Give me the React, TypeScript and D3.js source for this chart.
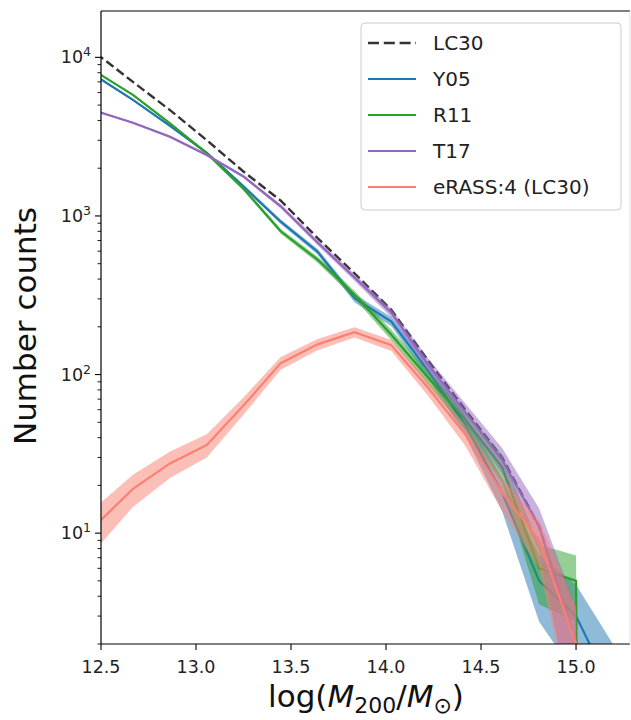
import React from 'react';
import * as d3 from 'd3';

// bin centres of log(M200/Msun)
const massBins = [12.474, 12.668, 12.863, 13.057, 13.251, 13.446, 13.640, 13.834, 14.028, 14.223, 14.417, 14.611, 14.806, 15.000, 15.194];
// number counts per bin
const lc30 = [10600, 7000, 4650, 3000, 1900, 1250, 725, 435, 256, 122, 60, 30, 11, 2, 0];
const y05 = [7600, 5400, 3700, 2500, 1530, 920, 595, 303, 216, 105, 48, 18, 5, 3, 1];
const r11 = [8100, 5800, 3840, 2480, 1480, 800, 530, 320, 178, 95, 52, 26, 6, 5, 0];
const t17 = [4580, 3870, 3160, 2420, 1770, 1150, 680, 410, 245, 115, 58, 29, 11, 2, 0];
const erass = [11.3, 19, 27.5, 36, 64, 118, 155, 185, 153, 82, 42, 18, 9, 2, 0];

const xTicks = [12.5, 13.0, 13.5, 14.0, 14.5, 15.0];
const yTickExps = [1, 2, 3, 4];
const legendLabels = ['LC30', 'Y05', 'R11', 'T17', 'eRASS:4 (LC30)'];
const seriesColors = ['#000000', '#1f77b4', '#2ca02c', '#9467bd', '#fa8072'];

const W = 631, H = 720;
const L = 101, R = 630, T = 11, B = 644;
const FONT = 'DejaVu Sans, sans-serif';

export default function App() {
  const x = d3.scaleLinear().domain([12.5, 15.284]).range([L, R]);
  const y = d3.scaleLog().domain([2, 19600]).range([B, T]);
  const safe = (v: number) => (v > 0 ? v : 1e-30);
  const line = d3.line<number>().x((_d, i) => x(massBins[i])).y((d) => y(safe(d)));
  const area = d3
    .area<number>()
    .x((_d, i) => x(massBins[i]))
    .y0((d) => y(safe(d - Math.sqrt(d))))
    .y1((d) => y(safe(d + Math.sqrt(d))));

  const models = [
    { data: y05, color: seriesColors[1] },
    { data: r11, color: seriesColors[2] },
    { data: t17, color: seriesColors[3] },
    { data: erass, color: seriesColors[4] },
  ];

  const minorTicks: number[] = [];
  for (let e = 0; e <= 4; e++) {
    for (let m = 2; m <= 9; m++) {
      const v = m * Math.pow(10, e);
      if (v >= 2 && v <= 19600) minorTicks.push(v);
    }
  }

  const legX = 361, legY = 23, legW = 260, legH = 187;
  const rowY = (i: number) => 43 + i * 36;

  return (
    <svg width={W} height={H} style={{ position: 'absolute', left: 0, top: 0, background: '#fff' }} fontFamily={FONT}>
      <defs>
        <clipPath id="plotclip">
          <rect x={L} y={T} width={R - L} height={B - T} />
        </clipPath>
      </defs>
      <rect x={0} y={0} width={W} height={H} fill="#fff" />
      <g clipPath="url(#plotclip)">
        <path d={line(lc30) || ''} fill="none" stroke="#000" strokeOpacity={0.8} strokeWidth={2.4} strokeDasharray="9,4" />
        {models.map((m, i) => (
          <g key={i}>
            <path d={line(m.data) || ''} fill="none" stroke={m.color} strokeWidth={2.2} />
            <path d={area(m.data) || ''} fill={m.color} fillOpacity={0.5} stroke="none" />
          </g>
        ))}
      </g>
      {/* spines */}
      <line x1={L} y1={T} x2={L} y2={B} stroke="#000" strokeWidth={1.2} />
      <line x1={L} y1={B} x2={R} y2={B} stroke="#000" strokeWidth={1.2} />
      <line x1={L} y1={T} x2={R} y2={T} stroke="#000" strokeWidth={1.2} />
      <line x1={R} y1={T} x2={R} y2={B} stroke="#ddd" strokeWidth={1} />
      {/* x ticks */}
      {xTicks.map((t) => (
        <g key={t}>
          <line x1={x(t)} x2={x(t)} y1={B} y2={B + 6} stroke="#000" strokeWidth={1.1} />
          <text x={x(t)} y={B + 29} textAnchor="middle" fontSize={17.5} fill="#222">
            {t.toFixed(1)}
          </text>
        </g>
      ))}
      {/* y ticks */}
      {minorTicks.map((v) => (
        <line key={v} x1={L - 3.5} x2={L} y1={y(v)} y2={y(v)} stroke="#000" strokeWidth={0.9} />
      ))}
      {yTickExps.map((e) => {
        const v = Math.pow(10, e);
        return (
          <g key={e}>
            <line x1={L - 6} x2={L} y1={y(v)} y2={y(v)} stroke="#000" strokeWidth={1.1} />
            <text x={L - 10} y={y(v) + 6} textAnchor="end" fontSize={17.5} fill="#222">
              <tspan>10</tspan>
              <tspan dy={-7} fontSize={12.5}>{String(e)}</tspan>
            </text>
          </g>
        );
      })}
      {/* axis labels */}
      <text transform={`translate(36, 326) rotate(-90)`} textAnchor="middle" fontSize={31} fill="#111">
        Number counts
      </text>
      <text x={366} y={707} textAnchor="middle" fontSize={31} fill="#111">
        <tspan>log(</tspan>
        <tspan fontStyle="italic">M</tspan>
        <tspan fontSize={22} dy={6}>200</tspan>
        <tspan dy={-6}>/</tspan>
        <tspan fontStyle="italic">M</tspan>
        <tspan fontSize={22} dy={6}>⊙</tspan>
        <tspan dy={-6}>)</tspan>
      </text>
      {/* legend */}
      <rect x={legX} y={legY} width={legW} height={legH} rx={4} fill="#fff" fillOpacity={0.8} stroke="#ccc" strokeWidth={1} />
      {legendLabels.map((lab, i) => (
        <g key={lab}>
          <line
            x1={368}
            x2={416}
            y1={rowY(i)}
            y2={rowY(i)}
            stroke={seriesColors[i]}
            strokeOpacity={i === 0 ? 0.8 : 1}
            strokeWidth={i === 0 ? 2.4 : 2.2}
            strokeDasharray={i === 0 ? '11,4.8' : undefined}
          />
          <text x={433} y={rowY(i) + 7} fontSize={20} fill="#222">
            {lab}
          </text>
        </g>
      ))}
    </svg>
  );
}
